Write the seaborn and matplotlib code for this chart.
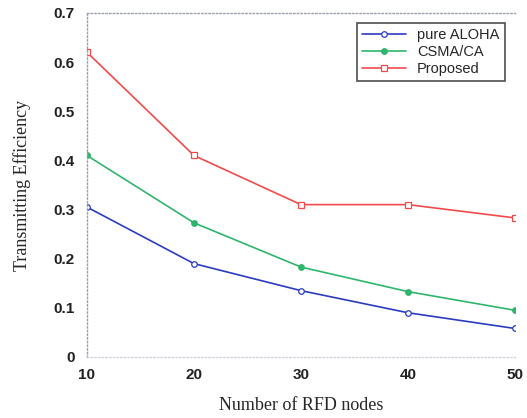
import numpy as np
import pandas as pd
import matplotlib
matplotlib.use('Agg')
import matplotlib.pyplot as plt
import seaborn as sns

# dane
nodes = [10, 20, 30, 40, 50]
pure_aloha = [0.305, 0.19, 0.135, 0.09, 0.058]
csma_ca = [0.41, 0.273, 0.183, 0.133, 0.095]
proposed = [0.62, 0.41, 0.31, 0.31, 0.283]
series_names = ['pure ALOHA', 'CSMA/CA', 'Proposed']

df = pd.DataFrame({'nodes': nodes * 3,
                   'eff': pure_aloha + csma_ca + proposed,
                   'scheme': [series_names[0]] * 5 + [series_names[1]] * 5 + [series_names[2]] * 5})

sns.set_style('white')
colors = {'pure ALOHA': '#2b3cc0', 'CSMA/CA': '#2fb56c', 'Proposed': '#f24a4a'}
markers = {'pure ALOHA': 'o', 'CSMA/CA': 'o', 'Proposed': 's'}

fig = plt.figure(figsize=(5.27, 4.18), dpi=100)
ax = fig.add_axes([0.165, 0.146, 0.812, 0.823])

sns.lineplot(data=df, x='nodes', y='eff', hue='scheme', style='scheme',
             palette=colors, markers=markers, dashes=False, ax=ax,
             linewidth=1.2, markersize=4, legend=False)

# markery: puste dla ALOHA i Proposed, pełne dla CSMA/CA
for line, name in zip(ax.get_lines(), series_names):
    line.set_markeredgecolor(colors[name])
    line.set_markeredgewidth(0.9)
    if name == 'CSMA/CA':
        line.set_markerfacecolor(colors[name])
    else:
        line.set_markerfacecolor('white')
    line.set_label(name)

ax.set_xlim(10, 50)
ax.set_ylim(0, 0.7)
ax.set_xticks(nodes)
ax.set_yticks([0, 0.1, 0.2, 0.3, 0.4, 0.5, 0.6, 0.7])
ax.set_yticklabels(['0', '0.1', '0.2', '0.3', '0.4', '0.5', '0.6', '0.7'])
for lab in ax.get_xticklabels() + ax.get_yticklabels():
    lab.set_fontfamily('Liberation Sans')
    lab.set_fontweight('bold')
    lab.set_fontsize(11)
    lab.set_color('#222222')
ax.tick_params(direction='in', length=3, color='#888888', pad=9)
ax.tick_params(axis='x', pad=8)

for s in ax.spines.values():
    s.set_linestyle(':')
    s.set_color('#9aa0b0')
    s.set_linewidth(1.0)
ax.spines['right'].set_visible(False)
ax.spines['bottom'].set_color('#d0d4dc')

ax.set_xlabel('Number of RFD nodes', fontfamily='Liberation Serif', fontsize=13, labelpad=11)
ax.set_ylabel('Transmitting Efficiency', fontfamily='Liberation Serif', fontsize=13, labelpad=16)

leg = ax.legend(loc='upper right', frameon=True, fancybox=False,
                prop={'family': 'Liberation Sans', 'size': 10.5}, handlelength=3,
                borderpad=0.35, labelspacing=0.2, borderaxespad=0.7)
leg.get_frame().set_edgecolor('#222222')
leg.get_frame().set_linewidth(1.2)

fig.savefig('out.png', dpi=100)
